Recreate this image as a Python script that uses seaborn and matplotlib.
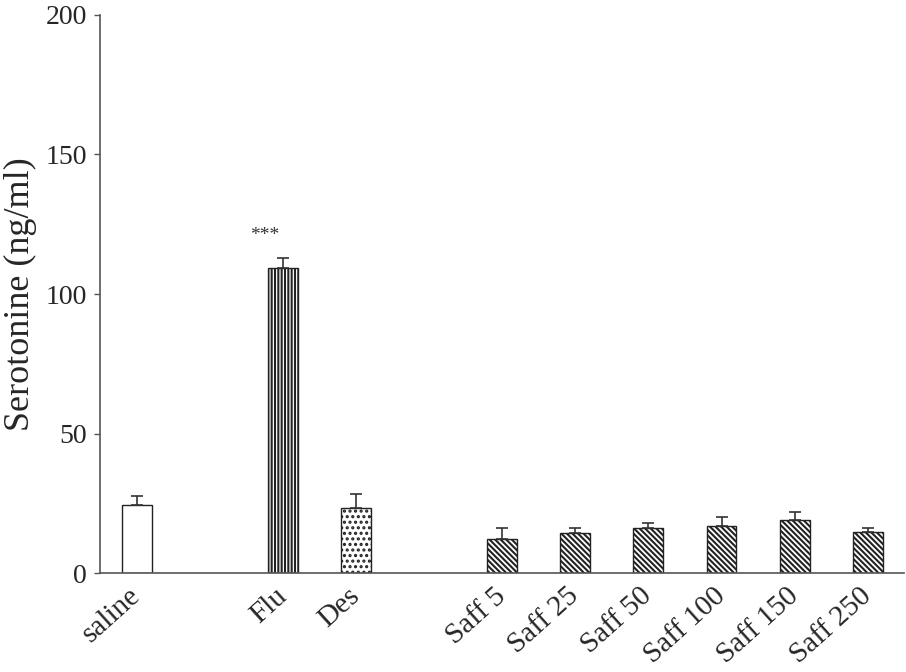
import matplotlib
matplotlib.use("Agg")
import matplotlib.pyplot as plt
import seaborn as sns
import numpy as np
import pandas as pd

categories = ["saline", "Flu", "Des", "Saff 5", "Saff 25", "Saff 50", "Saff 100", "Saff 150", "Saff 250"]
positions = [0, 2, 3, 5, 6, 7, 8, 9, 10]
means = [24.5, 109.4, 23.4, 12.2, 14.3, 16.1, 16.8, 19.1, 14.7]
errors = [3.1, 3.6, 5.0, 3.9, 1.8, 1.8, 3.4, 2.9, 1.4]
diag = "\\" * 6
hatches = ["", "|" * 5, "...", diag, diag, diag, diag, diag, diag]
yticks = [0, 50, 100, 150, 200]

sns.set_style("white")
plt.rcParams['font.family'] = ['Liberation Serif', 'DejaVu Serif']
plt.rcParams['hatch.linewidth'] = 1.5

df = pd.DataFrame({"pos": positions, "mean": means, "err": errors, "cat": categories})

fig = plt.figure(figsize=(9.06, 6.72), dpi=100)
ax = fig.add_axes([0.110, 0.147, 0.888, 0.831])

bars = ax.bar(df["pos"], df["mean"], width=0.41, color="white", edgecolor="#222222", linewidth=1.0, zorder=2)
for b, h in zip(bars, hatches):
    b.set_hatch(h)
ax.errorbar(df["pos"], df["mean"], yerr=[np.zeros(len(errors)), df["err"]], fmt="none",
            ecolor="#333333", elinewidth=1.2, capsize=4, capthick=1.2, zorder=3)

ax.text(1.75, 121, "***", ha="center", va="center", fontsize=14, color="#333333")

ax.set_xlim(-0.51, 10.5)
ax.set_ylim(0, 200)
ax.set_yticks(yticks)
ax.set_yticklabels([str(t) for t in yticks], fontsize=20)
ax.set_xticks(positions)
ax.set_xticklabels(categories, rotation=42, ha="right", va="center", rotation_mode="anchor", fontsize=21)
ax.tick_params(axis="x", length=0, pad=14)
ax.tick_params(axis="y", length=4, width=1, color="#555555", direction="out", left=True, pad=5)
ax.set_ylabel("Serotonine (ng/ml)", fontsize=26, labelpad=6)

sns.despine(ax=ax, top=True, right=True)
for s in ["left", "bottom"]:
    ax.spines[s].set_color("#555555")
    ax.spines[s].set_linewidth(1.2)

fig.savefig("out.png", dpi=100)
